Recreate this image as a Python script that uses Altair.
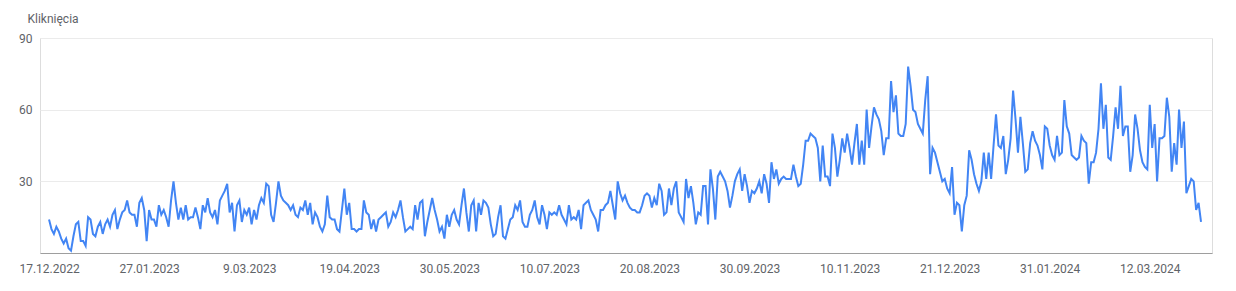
import json
import altair as alt
import pandas as pd

start_date = "2022-12-17"
clicks = [
    # 17.12.2022 - 26.01.2023
    14, 10, 8, 11, 9, 6, 4, 6, 2, 1, 7, 12, 13, 5, 5, 3, 15, 14, 8, 7,
    11, 13, 8, 12, 14, 11, 16, 18, 10, 14, 17, 18, 22, 17, 16, 16, 11, 21, 23, 18,
    5,
    # 27.01.2023 -
    18, 14, 14, 11, 20, 16, 18, 15, 11, 22, 30, 21, 14, 19, 14, 20, 14, 15, 15, 19,
    15, 10, 20, 17, 23, 17, 15, 18, 12, 22, 24, 26, 29, 17, 21, 9, 20, 22,
    # 9.03.2023 -
    13, 18, 16, 19, 12, 18, 14, 20, 23, 21, 29, 28, 16, 13, 21, 30, 24, 22, 21, 20,
    18, 20, 16, 15, 19, 18, 22, 16, 21, 12, 17, 15, 11, 9, 12, 24, 15, 14, 14, 10,
    # 19.04.2023 -
    9, 18, 27, 16, 21, 10, 10, 9, 10, 10, 22, 17, 16, 10, 14, 9, 14, 15, 16, 17,
    11, 13, 17, 15, 18, 22, 15, 9, 10, 11, 10, 20, 14, 21, 22, 7, 13, 18, 23, 18,
    14, 9,
    # 30.05.2023 -
    11, 6, 16, 11, 16, 18, 14, 12, 20, 27, 17, 9, 20, 22, 9, 21, 16, 22, 21, 19,
    12, 7, 8, 15, 20, 7, 6, 10, 14, 15, 20, 18, 22, 13, 11, 11, 16, 18, 22, 15,
    12,
    # 10.07.2023 -
    20, 16, 10, 17, 16, 17, 16, 20, 16, 14, 12, 20, 14, 15, 14, 18, 10, 20, 21, 22,
    18, 16, 14, 9, 18, 18, 20, 21, 26, 20, 14, 30, 25, 22, 24, 21, 19, 18, 18, 17,
    17,
    # 20.08.2023 -
    20, 24, 25, 24, 19, 23, 20, 29, 26, 16, 17, 27, 20, 27, 30, 17, 15, 13, 31, 23,
    28, 21, 12, 17, 16, 28, 28, 12, 35, 27, 14, 32, 34, 32, 30, 26, 19, 24, 30, 33,
    35,
    # 30.09.2023 -
    26, 33, 28, 21, 26, 25, 27, 30, 25, 33, 29, 21, 38, 31, 35, 29, 31, 32, 31, 31,
    31, 37, 32, 28, 29, 37, 47, 47, 50, 49, 48, 44, 30, 45, 32, 32, 28, 50, 44, 32,
    39,
    # 10.11.2023 -
    48, 42, 50, 44, 37, 46, 54, 37, 47, 37, 60, 44, 53, 61, 58, 56, 51, 41, 48, 48,
    72, 59, 66, 50, 49, 49, 54, 78, 70, 60, 59, 54, 52, 50, 64, 74, 33, 44, 42, 38,
    34,
    # 21.12.2023 -
    30, 31, 27, 25, 36, 16, 21, 20, 9, 20, 24, 43, 39, 33, 29, 26, 30, 42, 31, 42,
    31, 45, 58, 45, 44, 49, 33, 39, 48, 68, 56, 42, 57, 46, 34, 35, 46, 51, 47, 45,
    # 31.01.2024 -
    41, 35, 53, 52, 45, 41, 39, 49, 41, 42, 64, 53, 50, 41, 40, 39, 40, 49, 47, 46,
    29, 38, 38, 42, 52, 71, 52, 62, 40, 39, 49, 61, 52, 70, 49, 53, 53, 34, 41, 58,
    52,
    # 12.03.2024 -
    43, 38, 36, 35, 62, 44, 54, 30, 48, 48, 49, 65, 57, 34, 46, 37, 60, 44, 55, 25,
    28, 31, 30, 18, 21, 13,
]
tick_days = [0, 41, 82, 123, 164, 205, 246, 287, 328, 369, 410, 451]
tick_labels = ["17.12.2022", "27.01.2023", "9.03.2023", "19.04.2023", "30.05.2023",
               "10.07.2023", "20.08.2023", "30.09.2023", "10.11.2023", "21.12.2023",
               "31.01.2024", "12.03.2024"]
y_ticks = [0, 30, 60, 90]

dates = pd.date_range(start_date, periods=len(clicks), freq="D")
df = pd.DataFrame({
    "day": list(range(len(clicks))),
    "date": dates.strftime("%Y-%m-%d"),
    "clicks": clicks,
})

label_map = " : ".join(
    [f"datum.value == {d} ? '{l}'" for d, l in zip(tick_days, tick_labels)]
) + " : ''"

FONT = "Roboto"
GRAY = "#5f6368"
FS = 12

chart = alt.Chart(df).mark_line(
    color="#4285f4", strokeWidth=2, interpolate="linear"
).encode(
    x=alt.X(
        "day:Q",
        scale=alt.Scale(domain=[-3.7, 476.5], nice=False, zero=False),
        axis=alt.Axis(
            values=tick_days, labelExpr=label_map, title=None, grid=False,
            ticks=False, domain=True, domainColor="#9e9e9e", domainWidth=1,
            labelPadding=10, labelFontSize=FS, labelColor=GRAY, labelFont=FONT,
            labelFlush=False, labelOverlap=False,
        ),
    ),
    y=alt.Y(
        "clicks:Q",
        scale=alt.Scale(domain=[0, 90], nice=False),
        axis=alt.Axis(
            values=y_ticks, title="Kliknięcia", titleAngle=0, titleAlign="left",
            titleBaseline="middle", titleX=-13, titleY=-20, titleFontSize=FS,
            titleFontWeight="normal", titleColor=GRAY, titleFont=FONT,
            labelExpr="datum.value == 0 ? '' : datum.label",
            domain=False, ticks=False, grid=True, gridColor="#ebebeb",
            gridWidth=1, labelPadding=8, labelFontSize=FS, labelColor=GRAY,
            labelFont=FONT, labelBaseline="middle",
        ),
    ),
).properties(
    width=1172, height=215,
    autosize=alt.AutoSizeParams(type="none"),
    padding={"left": 40, "top": 38, "right": 24, "bottom": 38},
).configure_view(stroke=None).configure(background="white")

chart.save("out.html", embed_options={"renderer": "svg", "actions": False})
